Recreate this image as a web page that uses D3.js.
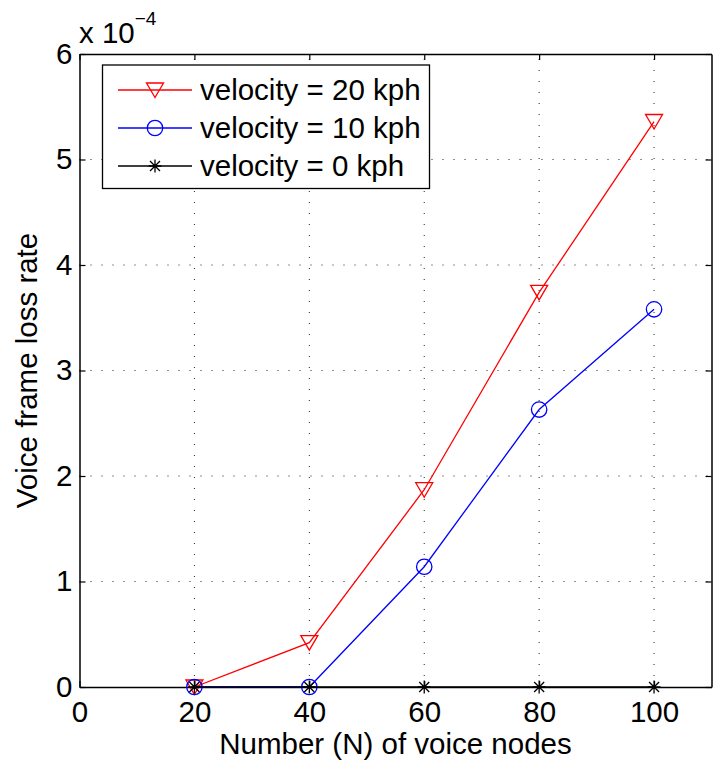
<!DOCTYPE html>
<html>
<head>
<meta charset="utf-8">
<script src="https://cdn.jsdelivr.net/npm/d3@7"></script>
<style>
  html, body { margin: 0; padding: 0; background: #fff; }
  svg { display: block; }
  text { font-family: "Liberation Sans", Arial, Helvetica, sans-serif; fill: #000; }
</style>
</head>
<body>
<svg id="chart" width="714" height="771"></svg>
<script>
// ---- data ----
const nodes = [20, 40, 60, 80, 100];
const loss20kph = [0, 0.42, 1.87, 3.74, 5.36];   // x 1e-4
const loss10kph = [0, 0, 1.14, 2.63, 3.58];
const loss0kph  = [0, 0, 0, 0, 0];
const xTicks = [0, 20, 40, 60, 80, 100];
const yTicks = [0, 1, 2, 3, 4, 5, 6];
const seriesNames = ["velocity = 20 kph", "velocity = 10 kph", "velocity = 0 kph"];
const xLabel = "Number (N) of voice nodes";
const yLabel = "Voice frame loss rate";

const series = [
  { name: seriesNames[0], values: loss20kph, color: "#ff0000", marker: "tri" },
  { name: seriesNames[1], values: loss10kph, color: "#0000ff", marker: "circle" },
  { name: seriesNames[2], values: loss0kph,  color: "#000000", marker: "star" }
];

const svg = d3.select("#chart");
const L = 79.5, R = 711.5, T = 54, B = 687;
const x = d3.scaleLinear().domain([0, 110]).range([L, R]);
const y = d3.scaleLinear().domain([0, 6]).range([B, T]);
const FS = 29.5;

// grid
const grid = svg.append("g");
xTicks.filter(d => d > 0).forEach(d => {
  grid.append("line").attr("x1", x(d)).attr("x2", x(d)).attr("y1", B).attr("y2", T)
    .attr("stroke", "#222").attr("stroke-width", 1).attr("stroke-dasharray", "1,10");
});
yTicks.filter(d => d > 0 && d < 6).forEach(d => {
  grid.append("line").attr("x1", L).attr("x2", R).attr("y1", y(d)).attr("y2", y(d))
    .attr("stroke", "#222").attr("stroke-width", 1).attr("stroke-dasharray", "1,10");
});

// axes with inward ticks
const tickLen = 6;
const fmt = d3.format("d");
const xAxisB = d3.axisBottom(x).tickValues(xTicks).tickFormat(fmt).tickSizeInner(-tickLen).tickSizeOuter(0).tickPadding(14);
const xAxisT = d3.axisTop(x).tickValues(xTicks).tickSizeInner(-tickLen).tickSizeOuter(0).tickFormat("");
const yAxisL = d3.axisLeft(y).tickValues(yTicks).tickFormat(fmt).tickSizeInner(-tickLen).tickSizeOuter(0).tickPadding(7);
const yAxisR = d3.axisRight(y).tickValues(yTicks).tickSizeInner(-tickLen).tickSizeOuter(0).tickFormat("");

function styleAxis(g) {
  g.select(".domain").attr("stroke", "#000").attr("stroke-width", 1.5);
  g.selectAll(".tick line").attr("stroke", "#000").attr("stroke-width", 1.2);
  g.selectAll(".tick text").style("font-size", FS + "px").attr("fill", "#000")
    .style("font-family", '"Liberation Sans", Arial, sans-serif');
}
svg.append("g").attr("transform", `translate(0,${B})`).call(xAxisB).call(styleAxis);
svg.append("g").attr("transform", `translate(0,${T})`).call(xAxisT).call(styleAxis);
svg.append("g").attr("transform", `translate(${L},0)`).call(yAxisL).call(styleAxis);
svg.append("g").attr("transform", `translate(${R},0)`).call(yAxisR).call(styleAxis);

// axis labels
svg.append("text").attr("x", (L + R) / 2).attr("y", 754).attr("text-anchor", "middle")
  .style("font-size", FS + "px").text(xLabel);
svg.append("text").attr("transform", `translate(37,${(T + B) / 2}) rotate(-90)`)
  .attr("text-anchor", "middle").style("font-size", FS + "px").text(yLabel);

// exponent
const ex = svg.append("text").attr("x", 79).attr("y", 43).style("font-size", FS + "px");
ex.append("tspan").text("x 10");
ex.append("tspan").attr("dy", -18).style("font-size", "19px").text("\u22124");

// markers
function drawMarker(g, m, cx, cy, color) {
  if (m === "tri") {
    g.append("path").attr("d", `M${cx - 8.5},${cy - 7}L${cx + 8.5},${cy - 7}L${cx},${cy + 7.5}Z`)
      .attr("fill", "none").attr("stroke", color).attr("stroke-width", 1.3);
  } else if (m === "circle") {
    g.append("circle").attr("cx", cx).attr("cy", cy).attr("r", 7.7)
      .attr("fill", "none").attr("stroke", color).attr("stroke-width", 1.3);
  } else {
    const s = 6.5, d = 5;
    g.append("path").attr("d",
      `M${cx},${cy - s}L${cx},${cy + s}M${cx - d},${cy - d}L${cx + d},${cy + d}M${cx - d},${cy + d}L${cx + d},${cy - d}M${cx - s},${cy}L${cx + s},${cy}`)
      .attr("fill", "none").attr("stroke", color).attr("stroke-width", 1.3);
  }
}

const line = d3.line().x((d, i) => x(nodes[i])).y(d => y(d));
series.forEach(s => {
  const g = svg.append("g");
  g.append("path").datum(s.values).attr("d", line).attr("fill", "none")
    .attr("stroke", s.color).attr("stroke-width", 1.3);
  s.values.forEach((v, i) => drawMarker(g, s.marker, x(nodes[i]), y(v), s.color));
});

// legend
const lg = svg.append("g");
lg.append("rect").attr("x", 102.5).attr("y", 65).attr("width", 327).attr("height", 123.5)
  .attr("fill", "#fff").attr("stroke", "#000").attr("stroke-width", 1.3);
series.forEach((s, i) => {
  const ly = 90 + i * 38;
  lg.append("line").attr("x1", 118).attr("x2", 192).attr("y1", ly).attr("y2", ly)
    .attr("stroke", s.color).attr("stroke-width", 1.3);
  drawMarker(lg, s.marker, 155, ly, s.color);
  lg.append("text").attr("x", 200).attr("y", ly + 10).style("font-size", FS + "px").text(s.name);
});
</script>
</body>
</html>
